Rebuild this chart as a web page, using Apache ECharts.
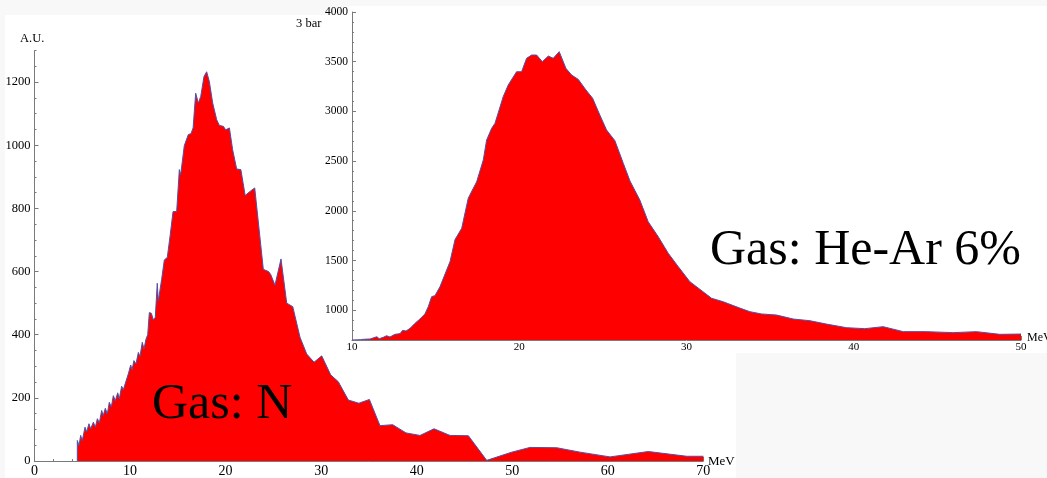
<!DOCTYPE html>
<html>
<head>
<meta charset="utf-8">
<script src="https://cdn.jsdelivr.net/npm/echarts@6/dist/echarts.min.js"></script>
<style>
html,body{margin:0;padding:0;background:#f8f8f8;}
#c{width:1047px;height:478px;}
</style>
</head>
<body>
<div id="c"></div>
<script>
// Gas: N spectrum (MeV, A.U.)
var nEnergy = [4.48,4.48,4.66,4.83,5.0,5.29,5.46,5.70,5.88,6.16,6.37,6.58,6.79,7.03,7.20,7.41,7.62,7.83,8.04,8.25,8.46,8.71,8.88,9.12,9.30,9.65,9.82,10.07,10.21,10.41,10.62,10.87,11.04,11.28,11.46,11.67,11.85,12.02,12.23,12.44,12.64,12.85,12.96,13.31,13.59,13.9,14.2,14.5,14.88,15.16,15.3,15.68,16.1,16.38,16.6,16.87,17.15,17.4,17.74,18.02,18.3,18.65,19.07,19.35,19.77,20.01,20.4,20.74,21.16,21.6,22.05,22.56,23.05,23.95,24.5,24.72,25.17,25.8,26.4,27.03,27.79,28.49,29.26,30.06,31.0,31.8,32.85,33.95,35.05,36.16,37.49,38.88,40.35,41.82,43.49,45.41,47.33,49.95,51.86,54.66,57.1,60.24,64.25,68.26,70];
var nCounts = [0,65,49,81,65,107,92,118,102,123,107,134,121,160,144,167,149,186,171,207,191,216,197,237,226,260,276,304,289,318,307,344,331,376,355,386,400,470,468,447,455,563,507,576,637,645,715,790,790,923,907,999,1034,1037,1055,1165,1134,1155,1218,1233,1202,1134,1081,1063,1060,1049,1055,986,925,923,841,854,865,607,600,591,557,640,500,489,392,339,313,333,273,251,193,183,195,112,115,89,81,102,81,80,2,28,43,42,28,13,30,15,15];

// Gas: He-Ar 6% spectrum, 3 bar
var heArEnergy = [10,10.5,10.68,11.08,11.48,11.63,11.87,12.07,12.27,12.57,12.87,13.03,13.23,13.47,13.77,14.06,14.36,14.56,14.76,14.96,15.26,15.66,15.86,16.16,16.56,16.95,17.25,17.45,17.85,18.05,18.35,18.55,19.04,19.34,19.84,20.14,20.44,20.74,21.04,21.38,21.74,22.03,22.39,22.79,23.13,23.53,23.99,24.39,24.82,25.22,25.72,26.22,26.62,27.21,27.71,28.31,28.91,29.51,30.2,31.5,32.19,33.19,33.79,34.49,35.39,36.38,37.38,38.37,39.57,40.66,41.76,42.96,44.35,45.94,47.34,48.73,50];
var heArCounts = [700,703,707,710,733,713,727,743,730,757,764,797,790,817,868,911,962,1035,1136,1146,1236,1404,1488,1710,1824,2126,2226,2290,2511,2712,2830,2880,3148,3265,3399,3399,3534,3567,3567,3500,3557,3534,3601,3433,3366,3322,3215,3131,2963,2813,2705,2478,2300,2108,1890,1739,1572,1437,1287,1120,1085,1021,985,962,951,911,894,860,824,814,834,784,784,774,784,757,760];

var mainYLabels = [0,200,400,600,800,1000,1200];
var insetYLabels = [1000,1500,2000,2500,3000,3500,4000];

function pairs(xs, ys){ var out=[]; for(var i=0;i<xs.length;i++) out.push([xs[i], ys[i]]); return out; }
function plain(v){ return String(v); }

var FONT = "Liberation Serif";
var AXC = '#7a7a7a';

var chart = echarts.init(document.getElementById('c'), null, {renderer:'canvas'});

function xAx(grid, min, max, fs, margin){
  return {
    type:'value', gridIndex:grid, min:min, max:max, interval:10, position:'bottom',
    axisLine:{show:true, onZero:false, lineStyle:{color:AXC, width:1}},
    axisTick:{show:true, inside:true, length:4, lineStyle:{color:AXC}},
    minorTick:{show:true, splitNumber:5, length:2, lineStyle:{color:AXC}},
    splitLine:{show:false}, minorSplitLine:{show:false},
    axisLabel:{fontFamily:FONT, fontSize:fs, color:'#000', margin:margin, formatter:plain, showMinLabel:true, showMaxLabel:true}
  };
}

function ttl(x, y, s, size){
  return {text:s, left:x, top:y, padding:0, itemGap:0,
    textStyle:{fontFamily:FONT, fontSize:size, fontWeight:'normal', color:'#000', lineHeight:size}};
}

var option = {
  animation:false,
  backgroundColor:'#f8f8f8',
  title:[
    ttl(20, 32, 'A.U.', 12.5),
    ttl(708, 455, 'MeV', 13),
    ttl(296, 17, '3 bar', 12.5),
    ttl(1027, 332, 'MeV', 12),
    ttl(152, 380, 'Gas: N', 50),
    ttl(710, 226, 'Gas: He-Ar 6%', 50)
  ],
  grid:[
    {left:34.5, right:343.7, top:50.6, bottom:15.7, containLabel:false},
    {left:352, right:26, top:12, bottom:138, containLabel:false}
  ],
  xAxis:[ xAx(0,0,70,14,3), xAx(1,10,50,11,2) ],
  yAxis:[
    {type:'value', gridIndex:0, min:0, max:1300, position:'left',
     axisLine:{show:true, onZero:false, lineStyle:{color:AXC, width:1}},
     axisTick:{show:true, inside:true, length:4, lineStyle:{color:AXC}, customValues:mainYLabels},
     axisLabel:{fontFamily:FONT, fontSize:12.5, color:'#000', margin:4, formatter:plain, customValues:mainYLabels},
     splitLine:{show:false}},
    {type:'value', gridIndex:0, min:0, max:1300, interval:50, position:'left',
     axisLine:{show:false}, axisLabel:{show:false},
     axisTick:{show:true, inside:true, length:2, lineStyle:{color:AXC}},
     splitLine:{show:false}},
    {type:'value', gridIndex:1, min:700, max:4000, position:'left',
     axisLine:{show:true, onZero:false, lineStyle:{color:AXC, width:1}},
     axisTick:{show:true, inside:true, length:4, lineStyle:{color:AXC}, customValues:insetYLabels},
     axisLabel:{fontFamily:FONT, fontSize:11.5, color:'#000', margin:4, formatter:plain, customValues:insetYLabels},
     splitLine:{show:false}},
    {type:'value', gridIndex:1, min:700, max:4000, interval:100, position:'left',
     axisLine:{show:false}, axisLabel:{show:false},
     axisTick:{show:true, inside:true, length:2, lineStyle:{color:AXC}},
     splitLine:{show:false}}
  ],
  series:[
    {type:'line', name:'Gas: N', xAxisIndex:0, yAxisIndex:0, data:pairs(nEnergy,nCounts),
     showSymbol:false, symbol:'none', lineStyle:{color:'#5050a8', width:1},
     areaStyle:{color:'#ff0000', opacity:1, origin:'start'}},
    {type:'line', name:'Gas: He-Ar 6%', xAxisIndex:1, yAxisIndex:2, data:pairs(heArEnergy,heArCounts),
     showSymbol:false, symbol:'none', lineStyle:{color:'#5050a8', width:1},
     areaStyle:{color:'#ff0000', opacity:1, origin:'start'}}
  ],
  graphic:[
    {type:'rect', z:-100, silent:true, shape:{x:5, y:15, width:731, height:463}, style:{fill:'#ffffff'}},
    {type:'rect', z:-100, silent:true, shape:{x:344, y:6, width:703, height:347}, style:{fill:'#ffffff'}}
  ]
};
chart.setOption(option);
</script>
</body>
</html>
